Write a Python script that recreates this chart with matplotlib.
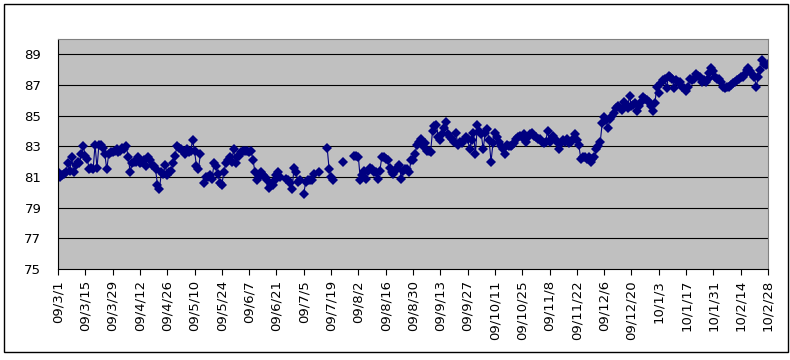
import numpy as np
import pandas as pd
import matplotlib
matplotlib.use('Agg')
import matplotlib.pyplot as plt
from matplotlib.patches import Rectangle

nan = np.nan

# daily values starting 2009-03-01 (nan = no data that day)
start_date = '2009-03-01'
values = [
    81.3, 81.0, 81.1, 81.2, 81.3, 81.9, 81.4, 82.3, 81.3, 81.8, 82.0, 81.9, 82.5, 83.0,
    82.4, 82.2, 81.5, 81.6, 81.5, 83.1, 81.6, 83.1, 83.1, 82.9, 82.5, 81.5, 82.5, 82.6,
    82.6, 82.7, 82.8, 82.6, 82.7, 82.9, 82.8, 83.0, 82.3, 81.3, 81.9, 82.0, 82.0, 82.3,
    81.9, 82.0, 82.1, 81.7, 82.3, 82.1, 81.8, 81.7, 81.5, 80.5, 80.2, 81.3, 81.2, 81.8,
    81.1, 81.3, 81.4, 81.9, 82.4, 83.0, 82.9, 82.8, 82.7, 82.5, 82.8, 82.6, 82.7, 83.4,
    82.7, 81.7, 81.5, 82.5, nan, 80.6, 81.0, 81.0, 81.1, 80.9, 81.9, 81.7, 81.2, 80.6,
    80.5, 81.3, 81.9, 82.1, 82.3, 82.0, 82.8, 81.9, 82.3, 82.4, 82.6, 82.7, 82.7, 82.7,
    82.6, 82.7, 82.1, 81.3, 80.8, 81.0, 81.3, 81.1, 81.0, 80.8, 80.3, 80.5, 80.5, 80.8,
    81.1, 81.3, 81.0, nan, nan, 80.9, 80.8, 80.6, 80.2, 81.6, 81.3, 80.7, 80.8, nan,
    79.9, 80.7, 80.8, 80.8, 80.8, 81.2, nan, nan, 81.3, nan, nan, nan, 82.9, 81.5,
    81.0, 80.8, nan, nan, nan, nan, 82.0, nan, nan, nan, nan, nan, 82.4, 82.4,
    82.3, 80.8, 81.1, 81.4, 80.9, 81.4, 81.6, 81.5, 81.3, 81.3, 80.9, 81.4, 82.3, 82.3,
    82.2, 82.1, 81.6, 81.3, 81.2, 81.4, 81.6, 81.8, 80.9, 81.4, 81.5, 81.5, 81.3, 82.1,
    82.1, 82.5, 83.1, 83.3, 83.5, 83.0, 83.2, 82.7, 82.7, 82.6, 84.0, 84.3, 84.4, 83.6,
    83.4, 83.8, 84.2, 84.6, 83.8, 83.6, 83.5, 83.3, 83.9, 83.1, 83.3, 83.2, 83.4, 83.6,
    83.5, 82.8, 83.4, 83.9, 82.5, 84.4, 84.0, 83.8, 82.8, 83.9, 84.1, 83.4, 82.0, 83.2,
    83.9, 83.6, 83.3, 83.0, 82.8, 82.5, 83.1, 83.0, 83.0, 83.1, 83.2, 83.5, 83.6, 83.7,
    83.6, 83.8, 83.3, 83.6, 83.8, 83.9, 83.7, 83.6, 83.5, 83.5, 83.3, 83.2, 83.3, 84.0,
    83.3, 83.5, 83.7, 83.5, 83.3, 82.8, 83.2, 83.4, 83.3, 83.5, 83.2, 83.3, 83.5, 83.8,
    83.4, 83.1, 82.2, 82.3, 82.3, 82.2, 82.3, 82.0, 82.2, 82.3, 82.8, 83.0, 83.3, 84.5,
    84.9, 84.7, 84.2, 84.8, 85.0, 85.2, 85.5, 85.6, 85.5, 85.4, 85.9, 85.7, 85.5, 86.3,
    85.6, 85.7, 85.8, 85.3, 85.6, 85.9, 86.2, 86.1, 86.0, 85.9, 85.6, 85.3, 85.8, 86.9,
    86.5, 87.1, 87.3, 87.4, 86.8, 87.6, 87.5, 87.4, 86.8, 87.3, 87.2, 87.2, 86.9, 86.8,
    86.6, 86.9, 87.4, 87.3, 87.4, 87.75, 87.6, 87.5, 87.2, 87.3, 87.2, 87.4, 87.8, 88.1,
    87.9, 87.5, 87.4, 87.4, 87.2, 86.9, 86.8, 86.9, 86.9, 87.0, 87.1, 87.2, 87.3, 87.4,
    87.5, 87.5, 87.7, 88.0, 88.1, 87.9, 87.75, 87.5, 86.9, 87.5, 88.0, 88.6, 88.4, 88.3,
    88.4,
]

tick_labels = ['09/3/1', '09/3/15', '09/3/29', '09/4/12', '09/4/26', '09/5/10',
               '09/5/24', '09/6/7', '09/6/21', '09/7/5', '09/7/19', '09/8/2',
               '09/8/16', '09/8/30', '09/9/13', '09/9/27', '09/10/11', '09/10/25',
               '09/11/8', '09/11/22', '09/12/6', '09/12/20', '10/1/3', '10/1/17',
               '10/1/31', '10/2/14', '10/2/28']
y_ticks = [75, 77, 79, 81, 83, 85, 87, 89]

dates = pd.date_range(start_date, periods=len(values), freq='D')
tick_dates = pd.date_range(start_date, periods=len(tick_labels), freq='14D')

fig = plt.figure(figsize=(7.9, 3.6), dpi=100)
fig.patch.set_facecolor('white')
# chart border
fig.add_artist(Rectangle((4 / 790, 8 / 360), 784 / 790, 348 / 360,
                         transform=fig.transFigure, fill=False,
                         edgecolor='black', linewidth=1.0))

ax = fig.add_axes([58 / 790, 1 - 269 / 360, 710 / 790, 230 / 360])
ax.set_facecolor('#C0C0C0')
ax.plot(dates, values, '-D', color='#000080', linewidth=0.8,
        markersize=4.8, markeredgewidth=0)

ax.set_xlim(dates[0], dates[-1])
ax.set_ylim(75, 90)
ax.set_yticks(y_ticks)
ax.set_yticklabels([str(v) for v in y_ticks], fontsize=9.5)
ax.tick_params(axis='y', length=0, pad=12)
ax.set_xticks(tick_dates)
ax.set_xticklabels(tick_labels, rotation=90, fontsize=9.5)
ax.tick_params(axis='x', direction='out', length=4, width=0.8, pad=4)
for v in y_ticks[1:]:
    ax.axhline(v, color='black', linewidth=0.8, zorder=1)

ax.spines['left'].set_color('black')
ax.spines['bottom'].set_color('black')
ax.spines['top'].set_color('#808080')
ax.spines['right'].set_color('#808080')
for s in ax.spines.values():
    s.set_linewidth(0.8)

plt.savefig('out.png', dpi=100)
plt.close()
